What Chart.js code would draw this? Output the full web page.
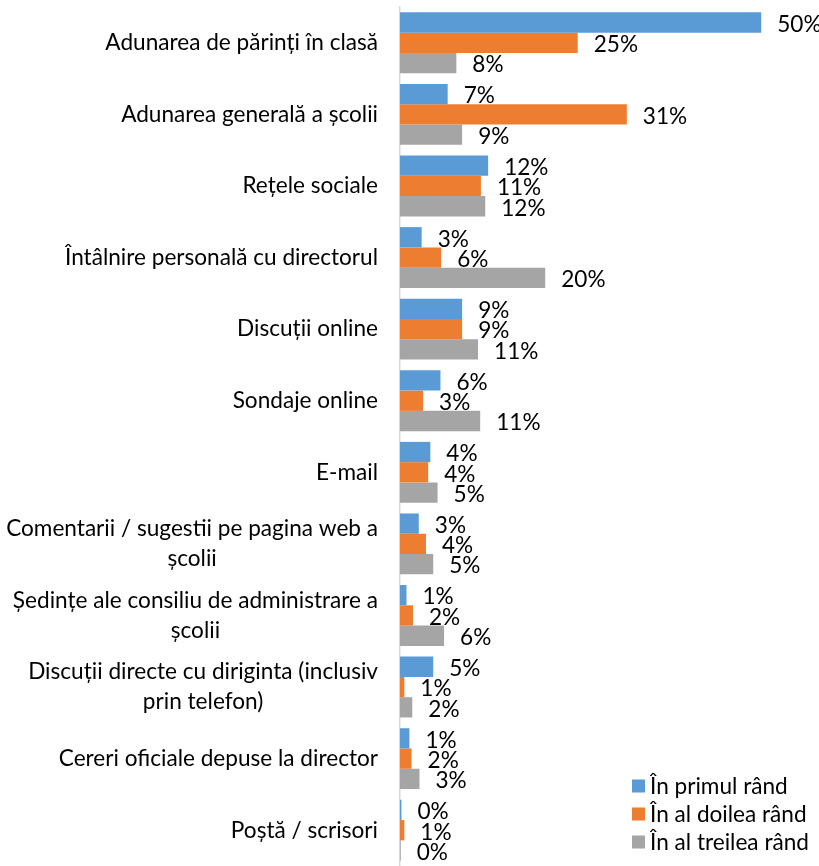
<!DOCTYPE html>
<html>
<head>
<meta charset="utf-8">
<script src="https://cdn.jsdelivr.net/npm/chart.js@4"></script>
<style>
    html, body { margin: 0; padding: 0; background: #ffffff; overflow: hidden; }
    #wrap { width: 819px; height: 866px; position: relative; }
</style>
</head>
<body>
<div id="wrap"><canvas id="surveyChart"></canvas></div>
<script>
var categories = [
    ["Adunarea de părinți în clasă"],
    ["Adunarea generală a școlii"],
    ["Rețele sociale"],
    ["Întâlnire personală cu directorul"],
    ["Discuții online"],
    ["Sondaje online"],
    ["E-mail"],
    ["Comentarii / sugestii pe pagina web a", "școlii"],
    ["Ședințe ale consiliu de administrare a", "școlii"],
    ["Discuții directe cu diriginta (inclusiv", "prin telefon)"],
    ["Cereri oficiale depuse la director"],
    ["Poștă / scrisori"]
];

var seriesNames = ["În primul rând", "În al doilea rând", "În al treilea rând"];

var firstValues = [50, 6.6, 12.2, 3.0, 8.6, 5.6, 4.2, 2.6, 0.9, 4.6, 1.3, 0.2];
var secondValues = [24.6, 31.4, 11.2, 5.7, 8.6, 3.2, 3.9, 3.6, 1.8, 0.6, 1.6, 0.6];
var thirdValues = [7.8, 8.6, 11.8, 20.1, 10.8, 11.1, 5.2, 4.6, 6.1, 1.7, 2.7, 0.1];

var seriesColors = ["#5B9BD5", "#ED7D31", "#A5A5A5"];

var FONT = "Lato, 'Open Sans', sans-serif";
var FONT_SIZE = 22.6;

// category labels: block right aligned to the axis, lines centered inside the block
var categoryLabels = {
    id: 'categoryLabels',
    afterDraw: function (chart) {
        var ctx = chart.ctx;
        var yScale = chart.scales.y;
        var right = chart.chartArea.left - 22;
        var lineHeight = 30;
        ctx.save();
        ctx.font = FONT_SIZE + "px " + FONT;
        ctx.fillStyle = "#000000";
        ctx.textAlign = "center";
        ctx.textBaseline = "middle";
        categories.forEach(function (lines, i) {
            var center = yScale.getPixelForTick(i);
            var widest = 0;
            lines.forEach(function (l) {
                widest = Math.max(widest, ctx.measureText(l).width);
            });
            var x = right - widest / 2;
            var y0 = center - (lines.length - 1) * lineHeight / 2;
            lines.forEach(function (l, k) {
                ctx.fillText(l, x, y0 + k * lineHeight);
            });
        });
        ctx.restore();
    }
};

// value labels just after the end of each bar
var valueLabels = {
    id: 'valueLabels',
    afterDatasetsDraw: function (chart) {
        var ctx = chart.ctx;
        ctx.save();
        ctx.font = FONT_SIZE + "px " + FONT;
        ctx.fillStyle = "#000000";
        ctx.textAlign = "left";
        ctx.textBaseline = "middle";
        chart.data.datasets.forEach(function (ds, di) {
            var meta = chart.getDatasetMeta(di);
            meta.data.forEach(function (bar, i) {
                var text = Math.round(ds.data[i]) + "%";
                ctx.fillText(text, bar.x + 16, bar.y + 2);
            });
        });
        ctx.restore();
    }
};

// legend in the lower right corner
var cornerLegend = {
    id: 'cornerLegend',
    afterDraw: function (chart) {
        var ctx = chart.ctx;
        var x = 632;
        var y = 786;
        ctx.save();
        ctx.font = FONT_SIZE + "px " + FONT;
        ctx.textAlign = "left";
        ctx.textBaseline = "middle";
        chart.data.datasets.forEach(function (ds, di) {
            ctx.fillStyle = ds.backgroundColor;
            ctx.fillRect(x, y + di * 28 - 6.5, 13, 13);
            ctx.fillStyle = "#000000";
            ctx.fillText(ds.label, x + 18, y + di * 28 + 1);
        });
        ctx.restore();
    }
};

var config = {
    type: 'bar',
    data: {
        labels: categories,
        datasets: [
            { label: seriesNames[0], data: firstValues, backgroundColor: seriesColors[0] },
            { label: seriesNames[1], data: secondValues, backgroundColor: seriesColors[1] },
            { label: seriesNames[2], data: thirdValues, backgroundColor: seriesColors[2] }
        ]
    },
    options: {
        indexAxis: 'y',
        responsive: true,
        maintainAspectRatio: false,
        animation: false,
        layout: {
            padding: { top: 7, right: 0, bottom: 0, left: 0 }
        },
        datasets: {
            bar: {
                barPercentage: 1,
                categoryPercentage: 0.85
            }
        },
        scales: {
            x: {
                display: false,
                min: 0,
                max: 58
            },
            y: {
                display: true,
                grid: { display: false, drawTicks: false },
                border: { display: true, color: "#D9D9D9", width: 1.5 },
                ticks: { display: false },
                afterFit: function (scale) {
                    scale.width = 400;
                }
            }
        },
        plugins: {
            legend: { display: false },
            tooltip: { enabled: false }
        }
    },
    plugins: [categoryLabels, valueLabels, cornerLegend]
};

var ctx = document.getElementById("surveyChart").getContext("2d");
var chart = new Chart(ctx, config);
</script>
</body>
</html>
